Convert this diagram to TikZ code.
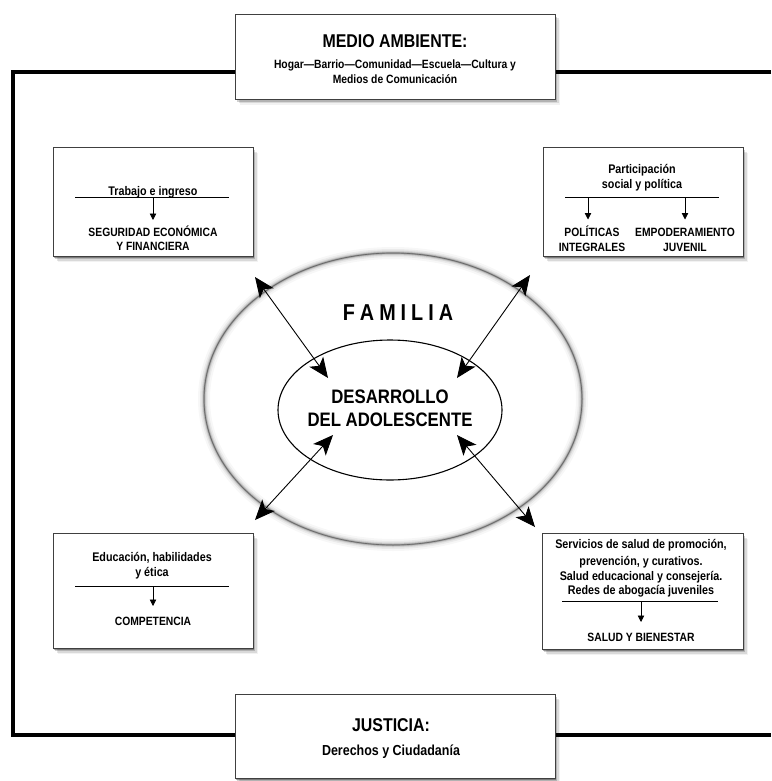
\documentclass[tikz,border=0pt]{standalone}
\usepackage{fontspec}
\setmainfont{Liberation Sans}[FakeStretch=0.86]
\usetikzlibrary{arrows.meta,shapes.geometric,shadows}
\begin{document}
\begin{tikzpicture}[x=1pt,y=-1pt,
  panel/.style={draw=black!75, line width=0.8pt, fill=white, inner sep=0pt,
    drop shadow={shadow xshift=1.2pt,shadow yshift=-1.5pt,opacity=0.3,fill=black},
    drop shadow={shadow xshift=2.4pt,shadow yshift=-3pt,opacity=0.18,fill=black},
    drop shadow={shadow xshift=3.6pt,shadow yshift=-4.5pt,opacity=0.1,fill=black},
    drop shadow={shadow xshift=4.8pt,shadow yshift=-6pt,opacity=0.05,fill=black}},
  txt/.style={anchor=base, inner sep=0pt, font=\bfseries\fontsize{#1}{#1}\selectfont},
  txt/.default=12.5,
  rule/.style={line width=0.8pt},
  small/.style={line width=0.8pt, arrows={-Triangle[length=6.5pt,width=6.5pt]}},
  bigarrow/.style={line width=0.9pt,
    arrows={Stealth[length=20pt,width=17pt,inset=5pt]-Stealth[length=20pt,width=17pt,inset=5pt]}}
]
\useasboundingbox (0,0) rectangle (771,781);

% outer frame
\coordinate (fTR) at (771,72);
\coordinate (fTL) at (12.5,72);
\coordinate (fBL) at (12.5,735);
\coordinate (fBR) at (771,735);
\draw[line width=4pt] (fTR) -- (fTL) -- (fBL) -- (fBR);

% boxes
\node[panel, minimum width=320pt, minimum height=85pt] (env) at (395,56.5) {};
\node[panel, minimum width=200pt, minimum height=109pt] (tl) at (153,201.5) {};
\node[panel, minimum width=200pt, minimum height=109pt] (tr) at (643,201.5) {};
\node[panel, minimum width=200pt, minimum height=115pt] (bl) at (153,590.5) {};
\node[panel, minimum width=201pt, minimum height=116pt] (br) at (642.5,591) {};
\node[panel, minimum width=320pt, minimum height=84pt] (jus) at (395,736) {};

% top box text
\node[txt=18.5] (envT) at (395,48) {MEDIO AMBIENTE:};
\node[txt=12] (envA) at (395,68.5) {Hogar—Barrio—Comunidad—Escuela—Cultura y};
\node[txt=12] (envB) at (395,83.5) {Medios de Comunicación};

% bottom box text
\node[txt=18.5] (jusT) at (391,731.7) {JUSTICIA:};
\node[txt=14.5] (jusA) at (391,755) {Derechos y Ciudadanía};

% top-left box
\node[txt] (tlT) at (153,195.5) {Trabajo e ingreso};
\coordinate (tlL1) at (75,197.5);
\coordinate (tlL2) at (229,197.5);
\draw[rule] (tlL1) -- (tlL2);
\coordinate (tlA) at (153,197.5);
\coordinate (tlB) at (153,220);
\draw[small] (tlA) -- (tlB);
\node[txt=12] (tlC) at (153,236.5) {SEGURIDAD ECONÓMICA};
\node[txt=12] (tlD) at (153,250.5) {Y FINANCIERA};

% top-right box
\node[txt] (trT1) at (642,173.5) {Participación};
\node[txt] (trT2) at (642,188.5) {social y política};
\coordinate (trL1) at (565,197.5);
\coordinate (trL2) at (719,197.5);
\draw[rule] (trL1) -- (trL2);
\coordinate (trA1) at (588,197.5);
\coordinate (trB1) at (588,219.5);
\coordinate (trA2) at (685,197.5);
\coordinate (trB2) at (685,219.5);
\draw[small] (trA1) -- (trB1);
\draw[small] (trA2) -- (trB2);
\node[txt=12] (trC1) at (592,236.7) {POLÍTICAS};
\node[txt=12] (trD1) at (592,251) {INTEGRALES};
\node[txt=12] (trC2) at (685,236.7) {EMPODERAMIENTO};
\node[txt=12] (trD2) at (685,251) {JUVENIL};

% bottom-left box
\node[txt] (blT1) at (152,561.7) {Educación, habilidades};
\node[txt] (blT2) at (152,576) {y ética};
\coordinate (blL1) at (75,586);
\coordinate (blL2) at (229,586);
\draw[rule] (blL1) -- (blL2);
\coordinate (blA) at (153,586);
\coordinate (blB) at (153,606);
\draw[small] (blA) -- (blB);
\node[txt=12] (blC) at (153,625) {COMPETENCIA};

% bottom-right box
\node[txt] (brT1) at (641,548.5) {Servicios de salud de promoción,};
\node[txt] (brT2) at (641,565) {prevención, y curativos.};
\node[txt] (brT3) at (641,580) {Salud educacional y consejería.};
\node[txt] (brT4) at (641,594.3) {Redes de abogacía juveniles};
\coordinate (brL1) at (562,601);
\coordinate (brL2) at (718,601);
\draw[rule] (brL1) -- (brL2);
\coordinate (brA) at (641,601);
\coordinate (brB) at (641,622);
\draw[small] (brA) -- (brB);
\node[txt=12] (brC) at (641,641.7) {SALUD Y BIENESTAR};

% family ellipse (soft grey rim)
\fill[white] (393,397) ellipse [x radius=190, y radius=147];
\foreach \w/\o in {12/0.03, 8/0.05, 5/0.08, 3/0.12, 1.5/0.2, 0.7/0.3}
  \draw[line width=\w pt, black, opacity=\o] (393,399) ellipse [x radius=189, y radius=146];
\node[ellipse, minimum width=380pt, minimum height=294pt, inner sep=0pt] (fam) at (393,397) {};
\node[txt=23] (famT) at (398,320) {F\kern5pt A\kern5pt M\kern5pt I\kern5pt L\kern5pt I\kern5pt A};

% adolescent ellipse
\node[draw, ellipse, line width=1.1pt, minimum width=224pt, minimum height=140pt, inner sep=0pt] (adol) at (390,410) {};
\node[txt=19.5] (adolA) at (390,403.3) {DESARROLLO};
\node[txt=19.5] (adolB) at (390,426.7) {DEL ADOLESCENTE};

% big arrows
\coordinate (aTL1) at (255,277);
\coordinate (aTL2) at (328,378);
\coordinate (aTR1) at (530,275);
\coordinate (aTR2) at (457,378);
\coordinate (aBL1) at (333,435);
\coordinate (aBL2) at (255,520);
\coordinate (aBR1) at (457,435);
\coordinate (aBR2) at (535,527);
\draw[bigarrow] (aTL1) -- (aTL2);
\draw[bigarrow] (aTR1) -- (aTR2);
\draw[bigarrow] (aBL1) -- (aBL2);
\draw[bigarrow] (aBR1) -- (aBR2);
\end{tikzpicture}
\end{document}
